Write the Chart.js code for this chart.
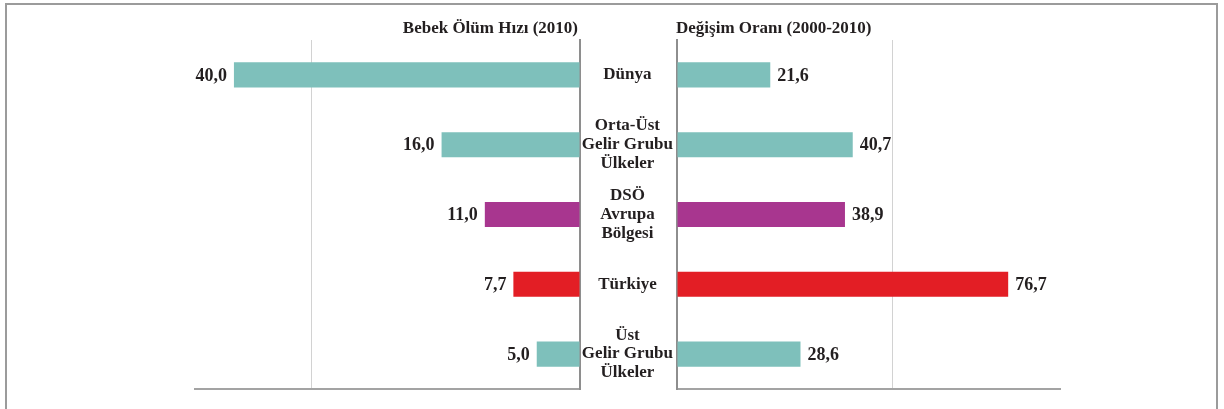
<!DOCTYPE html>
<html>
<head>
<meta charset="utf-8">
<script src="https://cdn.jsdelivr.net/npm/chart.js@4.4.1/dist/chart.umd.min.js"></script>
<style>
  html, body { margin: 0; padding: 0; background: #ffffff; }
  #wrap { position: relative; width: 1224px; height: 409px; overflow: hidden; background: #fff; }
  #frame { position: absolute; left: 5px; top: 3px; width: 1213px; height: 430px; box-sizing: border-box; border: 2px solid #9b9b9b; }
  canvas { position: absolute; left: 0; top: 0; }
  .ttl { position: absolute; top: 17px; font-family: "Liberation Serif", serif; font-weight: bold; font-size: 17px; line-height: 22px; color: #231f20; white-space: nowrap; }
  #t1 { right: calc(1224px - 578px); text-align: right; }
  #t2 { left: 676px; }
</style>
</head>
<body>
<div id="wrap">
  <div id="frame"></div>
  <canvas id="cLeft" width="1224" height="409"></canvas>
  <canvas id="cRight" width="1224" height="409"></canvas>
  <div class="ttl" id="t1"></div>
  <div class="ttl" id="t2"></div>
</div>
<script>
// ---- data ----
const categories = [
  ['Dünya'],
  ['Orta-Üst', 'Gelir Grubu', 'Ülkeler'],
  ['DSÖ', 'Avrupa', 'Bölgesi'],
  ['Türkiye'],
  ['Üst', 'Gelir Grubu', 'Ülkeler']
];
const infantMortality2010 = [40.0, 16.0, 11.0, 7.7, 5.0];
const changeRate2000to2010 = [21.6, 40.7, 38.9, 76.7, 28.6];
const panelTitles = ['Bebek Ölüm Hızı (2010)', 'Değişim Oranı (2000-2010)'];

// ---- styles ----
const TEAL = '#7ec0bb', MAGENTA = '#a8368f', RED = '#e31e25';
const barColors = [TEAL, TEAL, MAGENTA, RED, TEAL];
const TEXT = '#231f20';
const FONT = 'Liberation Serif';

document.getElementById('t1').textContent = panelTitles[0];
document.getElementById('t2').textContent = panelTitles[1];

function valueLabels(side) {
  return {
    id: 'valueLabels_' + side,
    afterDatasetsDraw(chart) {
      const ctx = chart.ctx;
      const meta = chart.getDatasetMeta(0);
      const ds = chart.data.datasets[0].data;
      ctx.save();
      ctx.font = 'bold 18px "' + FONT + '"';
      ctx.fillStyle = TEXT;
      ctx.textBaseline = 'middle';
      meta.data.forEach((bar, i) => {
        const txt = ds[i].toFixed(1).replace('.', ',');
        if (side === 'left') {
          ctx.textAlign = 'right';
          ctx.fillText(txt, bar.x - 7, bar.y + 1);
        } else {
          ctx.textAlign = 'left';
          ctx.fillText(txt, bar.x + 7, bar.y + 1);
        }
      });
      ctx.restore();
    }
  };
}

const gridColor = c => (c.tick && c.tick.value === 0) ? 'rgba(0,0,0,0)' : '#d2d2d2';

new Chart(document.getElementById('cLeft'), {
  type: 'bar',
  data: {
    labels: categories,
    datasets: [{ data: infantMortality2010, backgroundColor: barColors, barPercentage: 0.36, categoryPercentage: 1 }]
  },
  options: {
    indexAxis: 'y', responsive: false, animation: false,
    layout: { padding: { left: 195, right: 644, top: 40, bottom: 20 } },
    plugins: { legend: { display: false }, tooltip: { enabled: false } },
    scales: {
      x: {
        reverse: true, min: 0, max: 44.5,
        afterBuildTicks: s => { s.ticks = [{ value: 0 }, { value: 31 }]; },
        ticks: { display: false },
        grid: { drawTicks: false, color: gridColor, lineWidth: 1 },
        border: { color: '#a3a3a3', width: 2 }
      },
      y: {
        position: 'right',
        ticks: { display: false },
        grid: { display: false, drawTicks: false },
        border: { color: '#8e8e8e', width: 2 },
        afterFit: s => { s.width = 0; s.paddingTop = 0; s.paddingBottom = 0; }
      }
    }
  },
  plugins: [valueLabels('left')]
});

new Chart(document.getElementById('cRight'), {
  type: 'bar',
  data: {
    labels: categories,
    datasets: [{ data: changeRate2000to2010, backgroundColor: barColors, barPercentage: 0.36, categoryPercentage: 1 }]
  },
  options: {
    indexAxis: 'y', responsive: false, animation: false,
    layout: { padding: { left: 580, right: 164, top: 40, bottom: 20 } },
    plugins: { legend: { display: false }, tooltip: { enabled: false } },
    scales: {
      x: {
        min: 0, max: 88.7,
        afterBuildTicks: s => { s.ticks = [{ value: 0 }, { value: 50 }]; },
        ticks: { display: false },
        grid: { drawTicks: false, color: gridColor, lineWidth: 1 },
        border: { color: '#a3a3a3', width: 2 }
      },
      y: {
        position: 'left',
        ticks: {
          display: true, crossAlign: 'center', padding: 4, color: TEXT,
          font: { family: FONT, weight: 'bold', size: 17, lineHeight: 1.1 }
        },
        grid: { display: false, drawTicks: false },
        border: { color: '#8e8e8e', width: 2 },
        afterFit: s => { s.width = 97; s.paddingTop = 0; s.paddingBottom = 0; }
      }
    }
  },
  plugins: [valueLabels('right')]
});
</script>
</body>
</html>
